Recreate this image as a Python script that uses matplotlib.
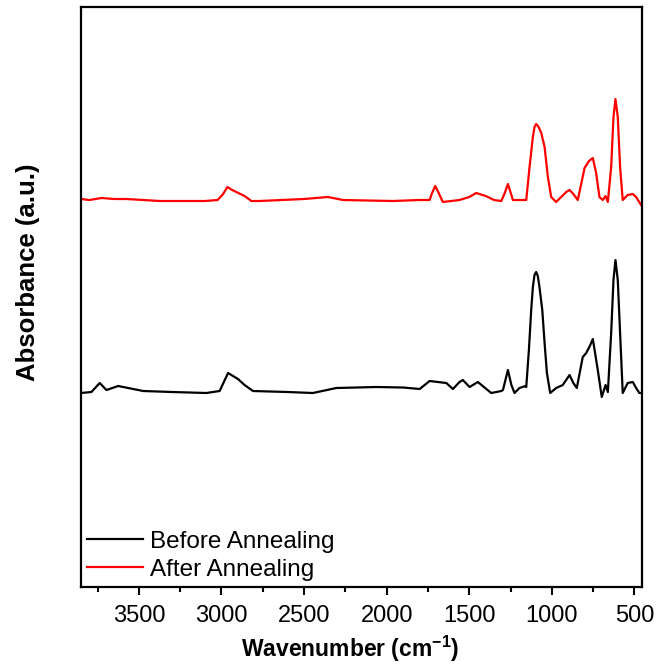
import matplotlib
matplotlib.use("Agg")
import matplotlib.pyplot as plt
from matplotlib.ticker import MultipleLocator

plt.rcParams['font.family'] = ['Liberation Sans', 'DejaVu Sans']
plt.rcParams['mathtext.fontset'] = 'custom'
plt.rcParams['mathtext.rm'] = 'Liberation Sans'
plt.rcParams['mathtext.bf'] = 'Liberation Sans:bold'

# spectra (wavenumber in cm-1, absorbance in a.u.)
wn_before = [3850, 3787, 3737, 3696, 3625, 3474, 3300, 3091, 3011, 2960,
             2900, 2860, 2809, 2600, 2446, 2305, 2063, 1900, 1800, 1740,
             1639, 1599, 1559, 1539, 1498, 1448, 1367, 1306, 1296, 1266,
             1245, 1226, 1196, 1160, 1155, 1139, 1125, 1115, 1105, 1095,
             1085, 1075, 1058, 1044, 1030, 1010, 974, 934, 897, 893,
             870, 849, 813, 792, 770, 752, 722, 698, 675, 661,
             641, 627, 615, 601, 587, 571, 541, 510, 490, 470, 460]
abs_before = [0.00, 0.01, 0.10, 0.03, 0.07, 0.02, 0.01, 0.00, 0.02, 0.20,
              0.14, 0.08, 0.02, 0.01, 0.00, 0.05, 0.06, 0.055, 0.04, 0.12,
              0.10, 0.04, 0.11, 0.13, 0.06, 0.11, 0.00, 0.02, 0.03, 0.23,
              0.08, 0.00, 0.05, 0.07, 0.06, 0.43, 0.83, 1.06, 1.18, 1.21,
              1.17, 1.06, 0.83, 0.50, 0.20, 0.00, 0.05, 0.08, 0.17, 0.18,
              0.10, 0.05, 0.36, 0.40, 0.47, 0.54, 0.23, -0.04, 0.08, 0.01,
              0.60, 1.13, 1.33, 1.13, 0.60, 0.00, 0.10, 0.11, 0.05, 0.00, 0.00]

wn_after = [3850, 3800, 3726, 3650, 3575, 3373, 3100, 3023, 2990, 2964,
            2935, 2910, 2860, 2819, 2769, 2500, 2355, 2265, 1964, 1800,
            1740, 1725, 1706, 1685, 1660, 1559, 1500, 1458, 1400, 1350,
            1306, 1285, 1266, 1245, 1236, 1155, 1135, 1115, 1105, 1095,
            1080, 1064, 1044, 1024, 1004, 974, 913, 893, 870, 843,
            802, 775, 752, 732, 712, 692, 675, 661, 641, 627,
            615, 601, 587, 571, 541, 510, 490, 460]
abs_after = [0.02, 0.01, 0.03, 0.02, 0.02, 0.00, 0.00, 0.01, 0.07, 0.14,
             0.11, 0.09, 0.05, 0.00, 0.00, 0.02, 0.04, 0.01, 0.00, 0.01,
             0.01, 0.08, 0.15, 0.08, -0.01, 0.01, 0.04, 0.08, 0.05, 0.01,
             0.00, 0.08, 0.17, 0.06, 0.01, 0.01, 0.34, 0.64, 0.74, 0.77,
             0.74, 0.68, 0.54, 0.24, 0.04, -0.01, 0.09, 0.11, 0.07, 0.01,
             0.33, 0.40, 0.43, 0.28, 0.04, 0.01, 0.05, -0.01, 0.34, 0.84,
             1.02, 0.84, 0.34, 0.01, 0.06, 0.07, 0.04, -0.04]

labels = ['Before Annealing', 'After Annealing']
colors = ['black', 'red']
offset_after = 1.92

fig = plt.figure(figsize=(6.56, 6.66), dpi=100)
ax = fig.add_axes([0.1235, 0.1186, 0.855, 0.8709])

ax.plot(wn_before, abs_before, color=colors[0], lw=1.6, label=labels[0])
ax.plot(wn_after, [a + offset_after for a in abs_after], color=colors[1],
        lw=1.6, label=labels[1])

ax.set_xlim(3850, 455)
ax.set_ylim(-1.94, 3.86)
ax.xaxis.set_major_locator(MultipleLocator(500))
ax.xaxis.set_minor_locator(MultipleLocator(250))
ax.set_yticks([])
ax.tick_params(axis='x', which='major', direction='out', length=6, width=1.5,
               labelsize=17, pad=7)
ax.tick_params(axis='x', which='minor', direction='out', length=3.5, width=1.5)
for s in ax.spines.values():
    s.set_linewidth(1.6)

ax.set_xlabel(r'Wavenumber (cm$^{\mathbf{-1}}$)', fontsize=16.5,
              fontweight='bold')
ax.xaxis.set_label_coords(0.48, -0.080)
ax.set_ylabel('Absorbance (a.u.)', fontsize=18.5, fontweight='bold')
ax.yaxis.set_label_coords(-0.073, 0.543)

ax.legend(loc='lower left', frameon=False, fontsize=17.5, handlelength=2.3,
          handletextpad=0.3, labelspacing=0.25, borderaxespad=0.15,
          borderpad=0.1)

fig.savefig('out.png', dpi=100)
